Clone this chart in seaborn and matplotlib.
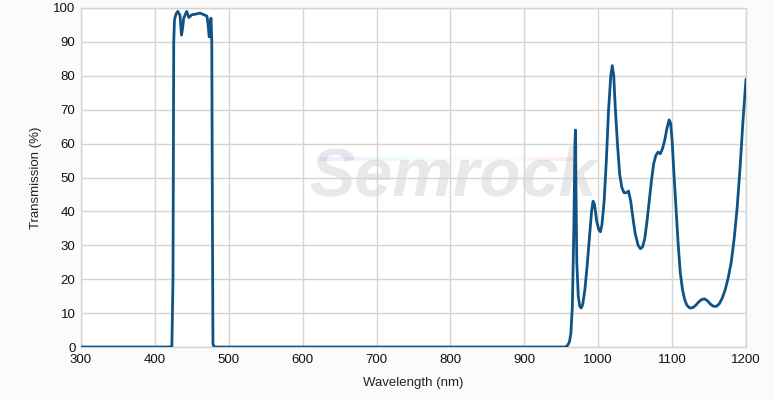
import numpy as np
import pandas as pd
import matplotlib
matplotlib.use("Agg")
import matplotlib.pyplot as plt
from matplotlib.collections import LineCollection
import seaborn as sb

# Datos (longitud de onda en nm, transmision en %)
wl_band = [300, 420, 423, 424.5, 425.5, 426.5, 428.5, 431, 434, 436, 437.5, 439, 443, 446,
           450, 455.5, 461, 466.5, 470.5, 472, 473.5, 475, 476, 477, 477.8, 478.6, 480, 955]
tr_band = [0, 0, 0.3, 20, 90, 96.5, 98.2, 99, 97.8, 92, 94, 97, 99, 97.2,
           98, 98.2, 98.5, 98, 97.6, 95, 91.5, 96, 97, 90, 40, 1, 0, 0]

wl_nir = [958, 961, 963, 965, 967, 968.5, 969.2, 970, 971, 973, 975, 977, 979, 982, 985, 988,
          991, 993, 995, 998, 1001, 1003, 1005, 1008, 1011, 1014, 1017, 1019, 1021, 1023,
          1026, 1029, 1032, 1035, 1038, 1041, 1044, 1047, 1050, 1054, 1057, 1060, 1063,
          1066, 1069, 1072, 1075, 1078, 1081, 1084, 1087, 1090, 1093, 1096, 1098, 1100,
          1102, 1105, 1108, 1111, 1114, 1117, 1120, 1124, 1128, 1132, 1136, 1140, 1144,
          1148, 1152, 1156, 1160, 1164, 1168, 1172, 1176, 1180, 1184, 1188, 1192, 1196, 1200]
tr_nir = [0.3, 1.5, 4, 12, 35, 60, 64, 45, 25, 15, 12, 11.5, 12.5, 17, 24, 32,
          40, 43, 42, 37, 34.5, 34, 36, 43, 55, 70, 80, 83, 80, 71,
          60, 51, 47, 45.5, 45.5, 46, 43, 38, 33.5, 30, 29, 29.5, 32,
          37, 43, 49, 54, 56.5, 57.5, 57, 58.5, 61, 64.5, 67, 66, 61,
          53, 42, 31, 22, 17, 14, 12.3, 11.5, 11.6, 12.3, 13.3, 14, 14.2,
          13.6, 12.6, 12, 12, 12.8, 14.5, 17, 20.5, 25, 32, 41, 53, 67, 79]

x_ticks = [300, 400, 500, 600, 700, 800, 900, 1000, 1100, 1200]
y_ticks = [0, 10, 20, 30, 40, 50, 60, 70, 80, 90, 100]

df = pd.DataFrame({"wl": wl_band + wl_nir, "tr": tr_band + tr_nir})

sb.set_style("white")
plt.rcParams["font.family"] = ["Liberation Sans", "DejaVu Sans"]

fig = plt.figure(figsize=(7.74, 4.0), dpi=100)
fig.patch.set_facecolor("#fbfbfb")
ax = fig.add_axes([81 / 774, 53 / 400, 665 / 774, 339 / 400])
ax.set_facecolor("white")

# marca de agua (en coordenadas del eje)
ax.text(0.56, 0.5, "Semrock", transform=ax.transAxes, fontsize=49, fontweight="bold",
        fontstyle="italic", color="#e8e8e8", ha="center", va="center", zorder=0)
# franja de colores tenue encima del logo
xs = np.linspace(0.36, 0.74, 60)
segs = [[(xs[i], 0.555), (xs[i + 1], 0.555)] for i in range(len(xs) - 1)]
cols = plt.cm.rainbow(np.linspace(0, 1, len(segs)))
cols[:, 3] = 0.08
ax.add_collection(LineCollection(segs, colors=cols, linewidths=3,
                                 transform=ax.transAxes, zorder=0))

sb.lineplot(data=df, x="wl", y="tr", color="#0f5286", linewidth=2, ax=ax, zorder=3)

ax.set_xlim(300, 1200)
ax.set_ylim(0, 100)
ax.set_xticks(x_ticks)
ax.set_yticks(y_ticks)
ax.grid(True, color="#d4d4d4", linewidth=1)
ax.tick_params(length=0, labelsize=9.5, labelcolor="#111111", pad=4)
ax.tick_params(axis="x", pad=5)
for s in ax.spines.values():
    s.set_color("#d4d4d4")
    s.set_linewidth(1)
ax.set_xlabel("Wavelength (nm)", fontsize=9.5, color="#222222", labelpad=8)
ax.set_ylabel("Transmission (%)", fontsize=9.5, color="#222222", labelpad=8)

plt.savefig("out.png", dpi=100, facecolor=fig.get_facecolor())
